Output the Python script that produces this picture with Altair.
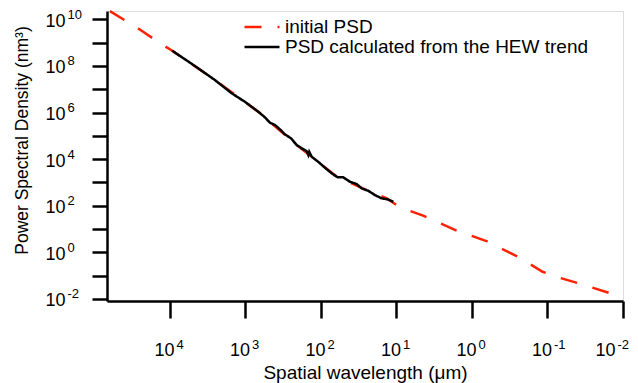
import altair as alt
import pandas as pd

# ---- data (wavelength in um, PSD in nm^3) ----
series_names = ["initial PSD", "PSD calculated from the HEW trend"]

init_wavelength = [6.24e4, 2.37e4, 1.50e4, 9.33e3, 2.54e3, 676, 210, 60.1, 23.7,
                   13.4, 8.99, 4.35, 1.66, 0.630, 0.240, 0.116, 0.0912, 0.0719,
                   0.0352, 0.0134, 0.01]
init_psd = [2.25e10, 3.24e9, 1.17e9, 4.47e8, 2.48e7, 1.07e6, 4.03e4, 1.66e3, 441,
            208, 85.3, 36.9, 9.06, 2.99, 0.617, 0.147, 0.111, 0.0845,
            0.0428, 0.0159, 0.0111]

hew_wavelength = [9.33e3, 6.32e3, 4.22e3, 2.54e3, 1.52e3, 1.02e3, 676, 552, 473,
                  406, 349, 300, 249, 210, 180, 155, 147, 143, 133, 109, 88.5,
                  72.1, 60.1, 50.7, 41.3, 33.7, 28.9, 23.7, 19.3, 15.7, 13.1, 11.0]
hew_psd = [4.49e8, 1.92e8, 7.89e7, 2.48e7, 6.67e6, 2.91e6, 1.08e6, 6.22e5, 3.65e5,
           2.91e5, 1.90e5, 1.16e5, 7.82e4, 4.03e4, 2.91e4, 2.23e4, 1.50e4, 2.08e4,
           1.27e4, 7.73e3, 4.28e3, 2.46e3, 1.66e3, 1.66e3, 1.07e3, 853, 558, 441,
           288, 208, 188, 149]

x_tick_values = [1e4, 1e3, 1e2, 1e1, 1, 0.1, 0.01]
y_tick_values = [1e-2, 1e-1, 1, 1e1, 1e2, 1e3, 1e4, 1e5, 1e6, 1e7, 1e8, 1e9, 1e10]
x_domain = [0.01, 6.82e4]
y_domain = [0.0082, 2.27e10]

df_init = pd.DataFrame({"wavelength": init_wavelength, "psd": init_psd,
                        "series": series_names[0], "idx": range(len(init_psd))})
df_hew = pd.DataFrame({"wavelength": hew_wavelength, "psd": hew_psd,
                       "series": series_names[1], "idx": range(len(hew_psd))})

FONT = "Liberation Sans, Arial, sans-serif"
xscale = alt.Scale(type="log", domain=x_domain, reverse=True, nice=False)
yscale = alt.Scale(type="log", domain=y_domain, nice=False)

EXP = "round(log(datum.value)/LN10)"
LAST = "datum.value < 0.05"

legend = alt.Legend(orient="none", legendX=133, legendY=6.5, title=None,
                    symbolType="M-1,0H6", symbolSize=100, symbolStrokeWidth=2.5,
                    labelFontSize=19, labelFont=FONT, labelColor="black", labelLimit=500,
                    labelOffset=26, padding=0, rowPadding=0)
color = alt.Color("series:N", scale=alt.Scale(domain=series_names, range=["#FF2200", "#000000"]),
                  legend=legend)
dash = alt.StrokeDash("series:N", scale=alt.Scale(domain=series_names, range=[[17, 16], [1, 0]]),
                      legend=legend)

x_main = alt.Axis(values=x_tick_values, labelExpr="'10'", labelAlign="right",
                  labelOffset={"condition": {"test": LAST, "value": -8}, "value": 4},
                  labelBaseline="alphabetic", labelPadding=37, labelFontSize=18,
                  tickSize=17, tickWidth=2.5, tickColor="black", domainColor="black",
                  domainWidth=2.5, grid=False, labelFlush=False, labelOverlap=False,
                  orient="bottom", title="Spatial wavelength (\u03bcm)", titleFontSize=19,
                  titleFontWeight="normal", titleY=77, titleBaseline="alphabetic",
                  titleColor="black", labelColor="black", labelFont=FONT, titleFont=FONT)
x_exp = alt.Axis(values=x_tick_values, labelExpr=EXP + " + ''", labelAlign="left",
                 labelOffset={"condition": {"test": LAST, "value": -6}, "value": 6},
                 labelBaseline="alphabetic", labelPadding=30, labelFontSize=13,
                 tickSize=17, tickOpacity=0, domain=False, grid=False, labelFlush=False,
                 labelOverlap=False, orient="bottom", title="", labelColor="black",
                 labelFont=FONT)
y_main = alt.Axis(values=y_tick_values,
                  labelExpr="(" + EXP + " % 2 == 0) ? '10' : ''",
                  labelAlign="right", labelBaseline="middle", labelOffset=2, labelPadding=27,
                  labelFontSize=18, tickSize=15, tickWidth=2.5, tickColor="black",
                  domainColor="black", domainWidth=2.5, grid=False, labelFlush=False,
                  labelOverlap=False, orient="left",
                  title="Power Spectral Density (nm\u00b3)", titleFontSize=17.5,
                  titleFontWeight="normal", titleX=-80, titleY=129, titleAngle=270,
                  titleAlign="center", titleBaseline="alphabetic", titleColor="black",
                  labelColor="black", labelFont=FONT, titleFont=FONT)
y_exp = alt.Axis(values=y_tick_values,
                 labelExpr="(" + EXP + " % 2 == 0) ? (" + EXP + " + '') : ''",
                 labelAlign="left", labelBaseline="middle", labelOffset=-5, labelPadding=25,
                 labelFontSize=13, tickSize=15, tickOpacity=0, domain=False, grid=False,
                 labelFlush=False, labelOverlap=False, orient="left", title="",
                 labelColor="black", labelFont=FONT)

red = alt.Chart(df_init).mark_line(strokeWidth=2.5).encode(
    x=alt.X("wavelength:Q", scale=xscale, axis=x_main),
    y=alt.Y("psd:Q", scale=yscale, axis=y_main),
    color=color, strokeDash=dash, order="idx:Q")

black = alt.Chart(df_hew).mark_line(strokeWidth=2.5).encode(
    x=alt.X("wavelength:Q", scale=xscale, axis=x_exp),
    y=alt.Y("psd:Q", scale=yscale, axis=y_exp),
    color=color, strokeDash=dash, order="idx:Q")

chart = alt.layer(red, black).resolve_axis(x="independent", y="independent").properties(
    width=516, height=290,
    autosize=alt.AutoSizeParams(type="none"),
    padding={"left": 99, "top": 3, "right": 7, "bottom": 82},
).configure_view(strokeWidth=0).configure(background="white")

chart.save("out.html", embed_options={"renderer": "svg", "actions": False})
